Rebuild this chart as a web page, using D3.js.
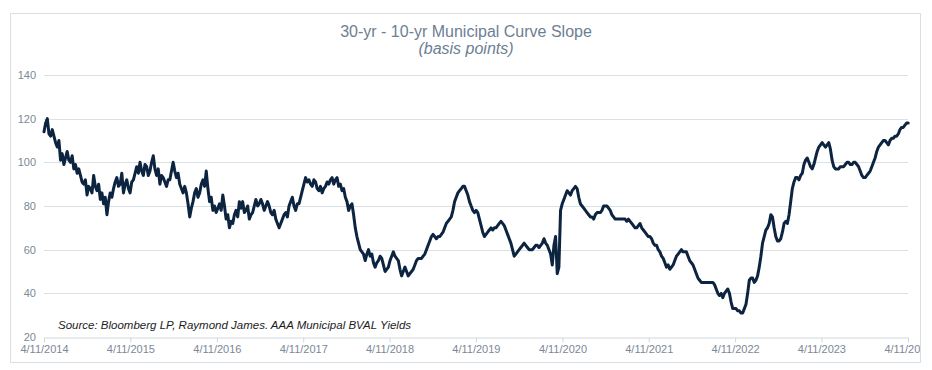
<!DOCTYPE html>
<html>
<head>
<meta charset="utf-8">
<script src="https://cdn.jsdelivr.net/npm/d3@7"></script>
<style>
  html, body { margin: 0; padding: 0; background: #fff; }
  svg { display: block; font-family: "Liberation Sans", Arial, sans-serif; }
</style>
</head>
<body>
<svg id="chart" width="932" height="370"></svg>
<script>
// ---- DATA ----
const titleText = "30-yr - 10-yr Municipal Curve Slope";
const subtitleText = "(basis points)";
const sourceText = "Source: Bloomberg LP, Raymond James. AAA Municipal BVAL Yields";
const startDate = "2014-04-11";
const stepDays = 7; // weekly observations
const slopeBp = [
  114,118,120,113,112,115,112,109,107,110,101,104,99,102,105,101,100,103,97,99,
  95,97,94,91,90,92,85,89,88,86,94,89,87,90,83,86,81,84,76,82,
  86,84,88,91,93,89,90,95,86,90,92,88,86,91,92,95,98,95,100,96,
  94,99,98,94,96,100,103,97,94,97,90,94,93,91,89,92,92,96,100,96,
  93,95,90,88,86,89,86,81,75,79,82,86,88,84,86,90,92,89,96,88,
  82,84,78,80,77,79,81,78,85,80,74,76,70,73,72,76,78,75,82,79,
  82,77,78,80,74,76,77,80,83,80,81,83,81,78,80,82,80,77,76,78,
  74,72,70,72,74,76,77,75,80,82,84,80,78,81,81,84,87,90,93,91,
  92,90,89,92,91,88,87,89,86,88,89,91,90,92,93,90,92,93,89,90,
  87,88,84,82,78,80,81,76,70,66,63,60,59,58,55,58,60,57,58,54,
  52,54,55,57,56,53,50,51,52,55,57,59,57,56,55,51,48,50,52,50,
  48,49,50,51,53,55,56,56,56,57,58,60,62,64,66,67,66,65,66,66,
  67,68,70,72,73,74,75,78,82,84,86,87,88,89,89,87,85,82,80,78,
  77,78,77,74,71,68,66,67,68,69,70,69,70,70,71,72,73,72,71,69,
  67,65,63,60,57,58,59,60,61,62,63,62,61,60,60,60,61,62,62,61,
  62,63,65,63,62,60,58,53,62,66,49,52,78,81,83,85,87,86,85,87,
  88,89,88,84,81,80,79,78,77,76,75,75,74,76,77,77,77,78,80,80,
  80,79,78,76,75,74,74,74,74,74,74,74,73,74,73,72,71,70,70,71,
  72,70,69,68,67,66,66,65,63,62,62,60,59,57,56,54,52,53,51,52,
  53,55,57,58,59,60,59,59,59,57,55,54,53,51,49,47,46,45,45,45,
  45,45,45,45,45,44,42,40,39,40,38,40,41,42,40,36,33,33,33,32,
  32,31,31,33,35,40,46,47,47,45,46,48,52,57,63,66,69,70,72,76,
  75,70,66,64,64,65,68,72,73,72,76,82,88,91,93,93,92,94,95,99,
  101,102,100,98,97,99,102,105,107,108,109,108,107,108,109,106,101,98,97,97,
  97,98,98,98,99,100,100,99,99,100,100,99,98,96,94,93,93,94,95,96,
  98,100,102,105,107,108,109,110,110,109,108,110,111,111,112,112,113,115,116,116,
  117,118,118
];
const yTicks = [20, 40, 60, 80, 100, 120, 140];
const xTickDates = ["2014-04-11","2015-04-11","2016-04-11","2017-04-11","2018-04-11",
                    "2019-04-11","2020-04-11","2021-04-11","2022-04-11","2023-04-11","2024-04-11"];

// ---- BUILD ----
const parse = d3.utcParse("%Y-%m-%d");
const fmt = d3.utcFormat("%-m/%-d/%Y");
const t0 = parse(startDate);
const series = slopeBp.map((v, i) => ({ date: d3.utcDay.offset(t0, i * stepDays), value: v }));
const tickDates = xTickDates.map(parse);

const svg = d3.select("#chart");
const frame = { x: 10, y: 13, w: 910, h: 349 };
const plot = { left: 44, right: 908, top: 75, bottom: 337 };

svg.append("defs").append("clipPath").attr("id", "frameClip")
  .append("rect").attr("x", frame.x).attr("y", frame.y).attr("width", frame.w).attr("height", frame.h);

// outer border
svg.append("rect")
  .attr("x", frame.x + 0.5).attr("y", frame.y + 0.5)
  .attr("width", frame.w).attr("height", frame.h)
  .attr("fill", "#fff").attr("stroke", "#d9dfe4").attr("stroke-width", 1);

const g = svg.append("g").attr("clip-path", "url(#frameClip)");

const x = d3.scaleUtc().domain([tickDates[0], tickDates[tickDates.length - 1]]).range([plot.left, plot.right]);
const y = d3.scaleLinear().domain([20, 140]).range([plot.bottom, plot.top]);

// gridlines
g.append("g").selectAll("line").data(yTicks.filter(d => d > 20)).join("line")
  .attr("x1", plot.left).attr("x2", plot.right)
  .attr("y1", d => Math.round(y(d)) + 0.5).attr("y2", d => Math.round(y(d)) + 0.5)
  .attr("stroke", "#d9e1e7").attr("stroke-width", 1);

// y axis labels
const yAxis = d3.axisLeft(y).tickValues(yTicks).tickSize(0).tickPadding(8);
const yg = g.append("g").attr("transform", `translate(${plot.left},0)`).call(yAxis);
yg.select(".domain").remove();
yg.selectAll("text").attr("fill", "#7b8896").style("font-size", "11px")
  .style("font-family", "'Liberation Sans', Arial, sans-serif");

// x axis
const xAxis = d3.axisBottom(x).tickValues(tickDates).tickFormat(fmt).tickSize(5).tickSizeOuter(0).tickPadding(3);
const xg = g.append("g").attr("transform", `translate(0,${Math.round(plot.bottom) + 0.5})`).call(xAxis);
xg.select(".domain").attr("stroke", "#d0d8de");
xg.selectAll(".tick line").attr("stroke", "#d0d8de");
xg.selectAll("text").attr("fill", "#7b8896").style("font-size", "11px")
  .style("font-family", "'Liberation Sans', Arial, sans-serif");

// line
const line = d3.line().x(d => x(d.date)).y(d => y(d.value)).curve(d3.curveLinear);
g.append("path").datum(series)
  .attr("d", line)
  .attr("fill", "none")
  .attr("stroke", "#0c2440")
  .attr("stroke-width", 3)
  .attr("stroke-linejoin", "round")
  .attr("stroke-linecap", "round");

// titles
svg.append("text").attr("x", 466).attr("y", 37).attr("text-anchor", "middle")
  .attr("fill", "#6c8093").style("font-size", "16px").text(titleText);
svg.append("text").attr("x", 466).attr("y", 54).attr("text-anchor", "middle")
  .attr("fill", "#6c8093").style("font-size", "16px").style("font-style", "italic").text(subtitleText);

// source
svg.append("text").attr("x", 58).attr("y", 329)
  .attr("fill", "#1c1c1c").style("font-size", "11.5px").style("font-style", "italic").text(sourceText);
</script>
</body>
</html>
